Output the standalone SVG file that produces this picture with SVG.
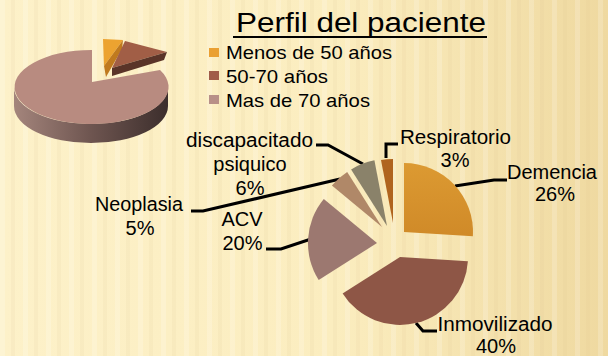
<svg xmlns="http://www.w3.org/2000/svg" width="608" height="356" viewBox="0 0 608 356">
  <defs>
    <linearGradient id="bg" x1="0" y1="0" x2="1" y2="0">
      <stop offset="0" stop-color="#fdf1c9"/>
      <stop offset="0.55" stop-color="#fbedbf"/>
      <stop offset="1" stop-color="#efd9a0"/>
    </linearGradient>
    <pattern id="stripes" width="23" height="356" patternUnits="userSpaceOnUse">
      <rect x="0" y="0" width="5" height="356" fill="#ffffff" opacity="0.18"/>
      <rect x="11" y="0" width="4" height="356" fill="#d8c08a" opacity="0.10"/>
    </pattern>
    <linearGradient id="side" x1="0" y1="0" x2="1" y2="0">
      <stop offset="0" stop-color="#a4857c"/>
      <stop offset="0.5" stop-color="#6e5550"/>
      <stop offset="1" stop-color="#3c2e2c"/>
    </linearGradient>
    <linearGradient id="dem" x1="0" y1="0" x2="0" y2="1">
      <stop offset="0" stop-color="#dc9a32"/>
      <stop offset="1" stop-color="#d08a28"/>
    </linearGradient>
  </defs>
  <style>
    text { font-family: "Liberation Sans", Arial, sans-serif; fill: #000; }
    .lbl { font-size: 20px; text-anchor: middle; }
    .leg { font-size: 19px; }
    .lead { fill: none; stroke: #000; stroke-width: 3; stroke-linejoin: miter; }
  </style>

  <rect width="608" height="356" fill="url(#bg)"/>
  <rect width="608" height="356" fill="url(#stripes)"/>

  <g id="mini-pie">
    <path d="M14,87 A77,37 0 0 0 168,87 L168,106 A77,37 0 0 1 14,106 Z" fill="url(#side)"/>
    <path d="M92,82 L92,50 A77,37 0 1 0 160,70 Z" fill="#b88b80"/>
    <path d="M103,39 L123,40 L104,66 Z" fill="#eca330"/>
    <path d="M123,40 L104,66 L106,77 L122,49 Z" fill="#c07a1e"/>
    <path d="M125,41 L167,52 L112,68 Z" fill="#a15e46"/>
    <path d="M112,68 L167,52 L164,60 L112,76 Z" fill="#5a3428"/>
  </g>

  <g id="title">
    <text x="236" y="32" font-size="27" textLength="250" lengthAdjust="spacingAndGlyphs">Perfil del paciente</text>
    <rect x="233" y="36" width="254" height="2" fill="#000"/>
  </g>

  <g id="legend">
    <rect x="209" y="48" width="10" height="9" fill="#eaa032"/>
    <text class="leg" x="226" y="59" textLength="166" lengthAdjust="spacingAndGlyphs">Menos de 50 años</text>
    <rect x="209" y="71" width="10" height="9" fill="#a05c48"/>
    <text class="leg" x="226" y="83" textLength="102" lengthAdjust="spacingAndGlyphs">50-70 años</text>
    <rect x="209" y="95" width="10" height="9" fill="#b89088"/>
    <text class="leg" x="226" y="107" textLength="144" lengthAdjust="spacingAndGlyphs">Mas de 70 años</text>
  </g>

  <g id="connectors">
    <path class="lead" d="M316,145 L328,145 L363,164"/>
    <path class="lead" d="M191,211 L203,211 L340,179"/>
    <path class="lead" d="M266,249 L281,249 L311,239"/>
    <path class="lead" d="M398,144 L386,144 L386,158"/>
    <path class="lead" d="M455,186 L494,180 L507,180"/>
    <path class="lead" d="M416,323 L423,331 L437,331"/>
  </g>

  <g id="demencia">
    <path d="M404,232 L404,163 A69,69 0 0 1 472.9,236.3 Z" fill="url(#dem)"/>
    <text class="lbl" x="552" y="179" textLength="90" lengthAdjust="spacingAndGlyphs">Demencia</text>
    <text class="lbl" x="555" y="201">26%</text>
  </g>
  <g id="inmovilizado">
    <path d="M400,257 L467.9,261.3 A68,68 0 0 1 342.6,293.4 Z" fill="#8e5646"/>
    <text class="lbl" x="495" y="331" textLength="115" lengthAdjust="spacingAndGlyphs">Inmovilizado</text>
    <text class="lbl" x="496" y="353">40%</text>
  </g>
  <g id="acv">
    <path d="M377,243 L318.7,280 A69,69 0 0 1 323.8,199 Z" fill="#9c7870"/>
    <text class="lbl" x="242" y="226">ACV</text>
    <text class="lbl" x="242.5" y="250">20%</text>
  </g>
  <g id="neoplasia">
    <path d="M382,227 L331.9,185.6 A65,65 0 0 1 347.2,172.1 Z" fill="#b08868"/>
    <text class="lbl" x="139" y="211" textLength="88" lengthAdjust="spacingAndGlyphs">Neoplasia</text>
    <text class="lbl" x="140" y="235">5%</text>
  </g>
  <g id="discapacitado">
    <path d="M387,226 L351.1,169.4 A67,67 0 0 1 374.4,160.2 Z" fill="#8a826a"/>
    <text class="lbl" x="249.5" y="147" textLength="127" lengthAdjust="spacingAndGlyphs">discapacitado</text>
    <text class="lbl" x="250" y="171">psiquico</text>
    <text class="lbl" x="250" y="195">6%</text>
  </g>
  <g id="respiratorio">
    <path d="M393,223 L381,160.1 A64,64 0 0 1 393,159 Z" fill="#b0641e"/>
    <text class="lbl" x="455.5" y="144" textLength="111" lengthAdjust="spacingAndGlyphs">Respiratorio</text>
    <text class="lbl" x="455" y="167">3%</text>
  </g>
</svg>
